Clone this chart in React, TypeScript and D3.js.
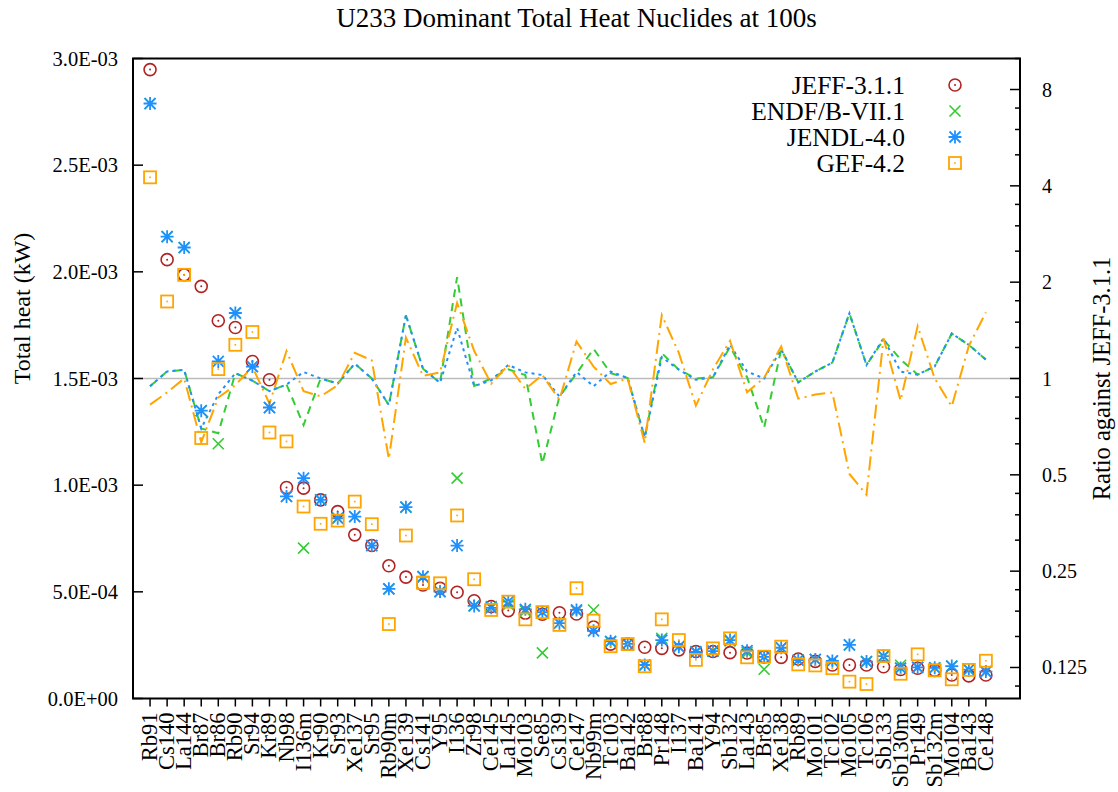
import React from 'react';
import * as d3 from 'd3';

const nuclides = ['Rb91','Cs140','La144','Br87','Br86','Rb90','Sr94','Kr89','Nb98','I136m','Kr90','Sr93','Xe137','Sr95','Rb90m','Xe139','Cs141','Y95','I136','Zr98','Ce145','La145','Mo103','Se85','Cs139','Ce147','Nb99m','Tc103','Ba142','Br88','Pr148','I137','Ba141','Y94','Sb132','La143','Br85','Xe138','Rb89','Mo101','Tc102','Mo105','Tc106','Sb133','Sb130m','Pr149','Sb132m','Mo104','Ba143','Ce148'];

const jeff = [2.948e-3,2.057e-3,1.986e-3,1.932e-3,1.771e-3,1.739e-3,1.580e-3,1.494e-3,0.989e-3,0.986e-3,0.931e-3,0.876e-3,0.767e-3,0.717e-3,0.622e-3,0.569e-3,0.532e-3,0.517e-3,0.498e-3,0.458e-3,0.431e-3,0.412e-3,0.400e-3,0.395e-3,0.402e-3,0.396e-3,0.335e-3,0.255e-3,0.255e-3,0.240e-3,0.235e-3,0.228e-3,0.220e-3,0.220e-3,0.215e-3,0.213e-3,0.195e-3,0.193e-3,0.185e-3,0.174e-3,0.157e-3,0.157e-3,0.157e-3,0.149e-3,0.136e-3,0.142e-3,0.132e-3,0.110e-3,0.106e-3,0.110e-3];

const endf = [2.789e-3,2.165e-3,2.114e-3,1.349e-3,1.194e-3,1.807e-3,1.556e-3,1.364e-3,0.947e-3,0.705e-3,0.931e-3,0.845e-3,0.853e-3,0.717e-3,0.514e-3,0.897e-3,0.571e-3,0.501e-3,1.033e-3,0.434e-3,0.431e-3,0.440e-3,0.410e-3,0.214e-3,0.353e-3,0.410e-3,0.415e-3,0.265e-3,0.256e-3,0.157e-3,0.282e-3,0.243e-3,0.220e-3,0.222e-3,0.270e-3,0.215e-3,0.137e-3,0.238e-3,0.180e-3,0.183e-3,0.176e-3,0.251e-3,0.173e-3,0.197e-3,0.156e-3,0.146e-3,0.144e-3,0.152e-3,0.135e-3,0.126e-3];

const jendl = [2.789e-3,2.165e-3,2.114e-3,1.349e-3,1.580e-3,1.807e-3,1.556e-3,1.364e-3,0.947e-3,1.033e-3,0.931e-3,0.845e-3,0.853e-3,0.717e-3,0.514e-3,0.897e-3,0.571e-3,0.501e-3,0.717e-3,0.434e-3,0.425e-3,0.454e-3,0.418e-3,0.405e-3,0.353e-3,0.415e-3,0.317e-3,0.268e-3,0.256e-3,0.157e-3,0.274e-3,0.243e-3,0.218e-3,0.222e-3,0.274e-3,0.224e-3,0.195e-3,0.238e-3,0.180e-3,0.183e-3,0.176e-3,0.251e-3,0.173e-3,0.199e-3,0.143e-3,0.146e-3,0.144e-3,0.152e-3,0.135e-3,0.126e-3];

const gef = [2.443e-3,1.861e-3,1.986e-3,1.221e-3,1.544e-3,1.658e-3,1.718e-3,1.247e-3,1.205e-3,0.900e-3,0.819e-3,0.834e-3,0.923e-3,0.817e-3,0.349e-3,0.764e-3,0.542e-3,0.540e-3,0.858e-3,0.559e-3,0.415e-3,0.454e-3,0.371e-3,0.405e-3,0.345e-3,0.517e-3,0.365e-3,0.245e-3,0.255e-3,0.151e-3,0.371e-3,0.274e-3,0.181e-3,0.235e-3,0.282e-3,0.193e-3,0.196e-3,0.243e-3,0.160e-3,0.155e-3,0.142e-3,0.079e-3,0.068e-3,0.199e-3,0.116e-3,0.207e-3,0.132e-3,0.090e-3,0.134e-3,0.177e-3];

const leftTicks = [0, 5e-4, 1e-3, 1.5e-3, 2e-3, 2.5e-3, 3e-3];
const leftTickLabels = ['0.0E+00','5.0E-04','1.0E-03','1.5E-03','2.0E-03','2.5E-03','3.0E-03'];
const rightTicks = [0.125, 0.25, 0.5, 1, 2, 4, 8];
const rightTickLabels = ['0.125','0.25','0.5','1','2','4','8'];
const minorFactors = [1.25, 1.5, 1.75];

const legendNames = ['JEFF-3.1.1','ENDF/B-VII.1','JENDL-4.0','GEF-4.2'];
const colors = { jeff: '#b22222', endf: '#33cc33', jendl: '#1e90ff', gef: '#ffa500' };

const FONT = '"Liberation Serif", "DejaVu Serif", serif';

function Marker({ kind, cx, cy }: { kind: string; cx: number; cy: number }) {
  if (kind === 'jeff') {
    return (
      <g>
        <circle cx={cx} cy={cy} r={6} fill="none" stroke={colors.jeff} strokeWidth={1.6} />
        <circle cx={cx} cy={cy} r={1} fill={colors.jeff} />
      </g>
    );
  }
  if (kind === 'endf') {
    const s = 5.5;
    return (
      <path d={`M${cx - s},${cy - s}L${cx + s},${cy + s}M${cx - s},${cy + s}L${cx + s},${cy - s}`} stroke={colors.endf} strokeWidth={1.6} fill="none" />
    );
  }
  if (kind === 'jendl') {
    const s = 6.5, d = 5.5;
    return (
      <path d={`M${cx - s},${cy}L${cx + s},${cy}M${cx},${cy - s}L${cx},${cy + s}M${cx - d},${cy - d}L${cx + d},${cy + d}M${cx - d},${cy + d}L${cx + d},${cy - d}`} stroke={colors.jendl} strokeWidth={1.8} fill="none" />
    );
  }
  const h = 6;
  return (
    <g>
      <rect x={cx - h} y={cy - h} width={2 * h} height={2 * h} fill="none" stroke={colors.gef} strokeWidth={1.8} />
      <rect x={cx - 0.8} y={cy - 0.8} width={1.6} height={1.6} fill={colors.gef} />
    </g>
  );
}

export default function App() {
  const W = 1118, H = 792;
  const L = 133, R = 1020, T = 58.5, B = 698.5;
  const n = nuclides.length;
  const x = d3.scaleLinear().domain([0, n + 2]).range([L, R]);
  const y = d3.scaleLinear().domain([0, 3e-3]).range([B, T]);
  const y2 = d3.scaleLog().base(2).domain([0.1, 10]).range([B, T]);

  const series = [
    { key: 'jeff', values: jeff },
    { key: 'endf', values: endf },
    { key: 'jendl', values: jendl },
    { key: 'gef', values: gef },
  ];

  const ratioLine = d3.line<number>().x((_, i) => x(i + 1)).y((r) => y2(r));
  const ratios = (vals: number[]) => vals.map((v, i) => v / jeff[i]);

  const minorTicks: number[] = [];
  for (let e = -4; e <= 3; e++) {
    for (const f of minorFactors) {
      const v = f * Math.pow(2, e);
      if (v >= 0.1 && v <= 10) minorTicks.push(v);
    }
  }

  return (
    <svg width={W} height={H} style={{ position: 'absolute', left: 0, top: 0, background: '#fff' }} fontFamily={FONT}>
      <rect x={0} y={0} width={W} height={H} fill="#fff" />
      <text x={(L + R) / 2} y={27} textAnchor="middle" fontSize={27}>U233 Dominant Total Heat Nuclides at 100s</text>

      {/* reference line ratio = 1 */}
      <line x1={L} x2={R} y1={y2(1)} y2={y2(1)} stroke="#bbbbbb" strokeWidth={1.5} />

      {/* ratio lines */}
      <path d={ratioLine(ratios(endf)) || ''} fill="none" stroke={colors.endf} strokeWidth={2} strokeDasharray="8,6" />
      <path d={ratioLine(ratios(jendl)) || ''} fill="none" stroke={colors.jendl} strokeWidth={2} strokeDasharray="3,4" />
      <path d={ratioLine(ratios(gef)) || ''} fill="none" stroke={colors.gef} strokeWidth={2} strokeDasharray="14,5,2,5" />

      {/* markers */}
      {series.map((s) => (
        <g key={s.key}>
          {s.values.map((v, i) => (
            <Marker key={i} kind={s.key} cx={x(i + 1)} cy={y(v)} />
          ))}
        </g>
      ))}

      {/* frame */}
      <rect x={L} y={T} width={R - L} height={B - T} fill="none" stroke="#000" strokeWidth={2} />

      {/* left axis */}
      {leftTicks.map((t, i) => (
        <g key={i}>
          <line x1={L} x2={L + 10} y1={y(t)} y2={y(t)} stroke="#000" strokeWidth={1.5} />
          <text x={L - 15} y={y(t)} dy="0.35em" textAnchor="end" fontSize={20.5}>{leftTickLabels[i]}</text>
        </g>
      ))}

      {/* right axis */}
      {rightTicks.map((t, i) => (
        <g key={i}>
          <line x1={R - 10} x2={R} y1={y2(t)} y2={y2(t)} stroke="#000" strokeWidth={1.5} />
          <text x={R + 22} y={y2(t)} dy="0.35em" textAnchor="start" fontSize={20}>{rightTickLabels[i]}</text>
        </g>
      ))}
      {minorTicks.map((t, i) => (
        <line key={i} x1={R - 5} x2={R} y1={y2(t)} y2={y2(t)} stroke="#000" strokeWidth={1.5} />
      ))}

      {/* bottom axis */}
      {nuclides.map((name, i) => (
        <g key={name}>
          <line x1={x(i + 1)} x2={x(i + 1)} y1={B} y2={B + 8} stroke="#000" strokeWidth={1.5} />
          <text transform={`translate(${x(i + 1) + 7},${B + 14}) rotate(-90)`} textAnchor="end" fontSize={22.5}>{name}</text>
        </g>
      ))}

      {/* axis titles */}
      <text transform={`translate(30,${(T + B) / 2 - 70}) rotate(-90)`} textAnchor="middle" fontSize={24}>Total heat (kW)</text>
      <text transform={`translate(1110,${(T + B) / 2}) rotate(-90)`} textAnchor="middle" fontSize={24.5}>Ratio against JEFF-3.1.1</text>

      {/* legend */}
      {legendNames.map((name, i) => {
        const ly = 85 + i * 26;
        return (
          <g key={name}>
            <text x={905} y={ly} dy="0.35em" textAnchor="end" fontSize={25.5}>{name}</text>
            <Marker kind={series[i].key} cx={955} cy={ly} />
          </g>
        );
      })}
    </svg>
  );
}
